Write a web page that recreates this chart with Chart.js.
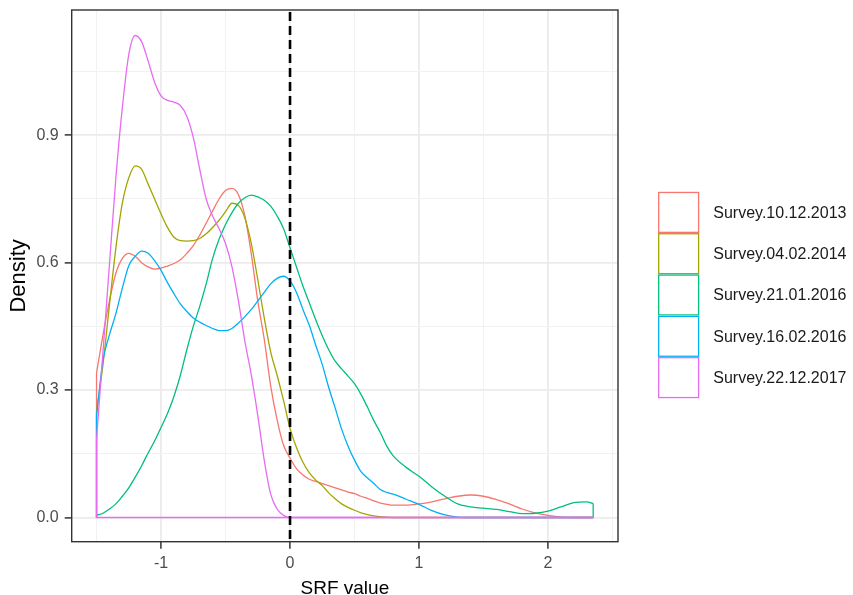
<!DOCTYPE html>
<html lang="en">
<head>
  <meta charset="UTF-8">
  <title>SRF value density</title>
  <script src="https://cdn.jsdelivr.net/npm/chart.js"></script>
  <style>
    html, body { margin: 0; padding: 0; background: #fff; }
    #wrap { width: 853px; height: 595px; position: relative; }
  </style>
</head>
<body>
  <div id="wrap">
    <canvas id="densityChart"></canvas>
  </div>

  <script>
    const srf = [
      -1.5, -1.45, -1.4, -1.35, -1.3, -1.25, -1.2, -1.15, -1.1, -1.05,
      -1.0, -0.95, -0.9, -0.85, -0.8, -0.75, -0.7, -0.65, -0.6, -0.55,
      -0.5, -0.45, -0.4, -0.35, -0.3, -0.25, -0.2, -0.15, -0.1, -0.05,
      0, 0.05, 0.1, 0.15, 0.2, 0.25, 0.3, 0.35, 0.4, 0.45,
      0.5, 0.55, 0.6, 0.65, 0.7, 0.75, 0.8,
      0.9, 1.0, 1.1, 1.2, 1.3, 1.4, 1.5, 1.6, 1.7, 1.8, 1.9, 2.0, 2.1, 2.2, 2.3, 2.35
    ];

    const surveyNames = [
      'Survey.10.12.2013',
      'Survey.04.02.2014',
      'Survey.21.01.2016',
      'Survey.16.02.2016',
      'Survey.22.12.2017'
    ];

    const survey2013 = [
      0.34, 0.43, 0.51, 0.575, 0.61, 0.622, 0.615, 0.60, 0.59, 0.585,
      0.587, 0.592, 0.598, 0.607, 0.622, 0.64, 0.665, 0.693, 0.722, 0.75,
      0.77, 0.775, 0.76, 0.71, 0.62, 0.51, 0.42, 0.31, 0.23, 0.17,
      0.14, 0.115, 0.1, 0.09, 0.085, 0.08, 0.075, 0.07, 0.065, 0.06,
      0.056, 0.05, 0.045, 0.039, 0.034, 0.031, 0.029,
      0.029, 0.032, 0.037, 0.044, 0.05, 0.053, 0.05, 0.042, 0.032, 0.02, 0.011, 0.005, 0.001, 0, 0, 0
    ];

    const survey2014 = [
      0.25, 0.36, 0.5, 0.635, 0.74, 0.80, 0.828, 0.82, 0.785, 0.75,
      0.715, 0.683, 0.66, 0.652, 0.651, 0.652, 0.657, 0.668, 0.683, 0.70,
      0.72, 0.74, 0.735, 0.705, 0.645, 0.56, 0.47, 0.39, 0.335, 0.275,
      0.21, 0.165, 0.13, 0.105, 0.088, 0.075, 0.058, 0.044, 0.032, 0.024,
      0.017, 0.011, 0.007, 0.004, 0.002, 0.001, 0,
      0, 0, 0, 0, 0, 0, 0, 0, 0, 0, 0, 0, 0, 0, 0, 0
    ];

    const survey2016a = [
      0.005, 0.01, 0.02, 0.032, 0.05, 0.07, 0.095, 0.122, 0.152, 0.18,
      0.212, 0.245, 0.285, 0.335, 0.395, 0.45, 0.497, 0.55, 0.61, 0.655,
      0.69, 0.718, 0.74, 0.753, 0.759, 0.755, 0.747, 0.733, 0.71, 0.68,
      0.635, 0.59, 0.545, 0.505, 0.465, 0.428, 0.395, 0.368, 0.35, 0.333,
      0.315, 0.29, 0.26, 0.228, 0.2, 0.168, 0.145,
      0.118, 0.097, 0.072, 0.05, 0.032, 0.025, 0.022, 0.019, 0.014, 0.009, 0.01, 0.015, 0.025, 0.035, 0.037, 0.033
    ];

    const survey2016b = [
      0.24, 0.37, 0.43, 0.48, 0.54, 0.593, 0.615, 0.627, 0.622, 0.605,
      0.582, 0.553, 0.527, 0.503, 0.485, 0.47, 0.46, 0.452, 0.445, 0.44,
      0.44, 0.445, 0.458, 0.473, 0.49, 0.51, 0.53, 0.55, 0.563, 0.568,
      0.557, 0.53, 0.49, 0.452, 0.405, 0.36, 0.306, 0.258, 0.208, 0.168,
      0.135, 0.108, 0.093, 0.08, 0.066, 0.059, 0.055,
      0.043, 0.031, 0.016, 0.006, 0.001, 0, 0, 0, 0, 0, 0, 0, 0, 0, 0, 0
    ];

    const survey2017 = [
      0.185, 0.39, 0.595, 0.8, 0.965, 1.09, 1.135, 1.12, 1.075, 1.025,
      0.993, 0.982, 0.978, 0.97, 0.945, 0.895, 0.82, 0.75, 0.71, 0.68,
      0.645, 0.59, 0.51, 0.415, 0.335, 0.24, 0.135, 0.055, 0.02, 0.005,
      0, 0, 0, 0, 0, 0, 0, 0, 0, 0,
      0, 0, 0, 0, 0, 0, 0,
      0, 0, 0, 0, 0, 0, 0, 0, 0, 0, 0, 0, 0, 0, 0, 0
    ];

    const surveyColors = ['#F8766D', '#A3A500', '#00BF7D', '#00B0F6', '#E76BF3'];

    // axis setup
    const xTicks = [-1.5, -1, -0.5, 0, 0.5, 1, 1.5, 2, 2.5];
    const yTicks = [0, 0.15, 0.3, 0.45, 0.6, 0.75, 0.9, 1.05];
    const xMin = -1.6925, xMax = 2.5425;
    const yMin = -0.057, yMax = 1.195;
    const refLineX = 0;

    const isMajorX = v => Number.isInteger(v);
    const isMajorY = v => Math.abs(Math.round(v / 0.3) * 0.3 - v) < 1e-6;

    const allSeries = [survey2013, survey2014, survey2016a, survey2016b, survey2017];
    const last = srf.length - 1;

    // each density is drawn like ggplot's outline polygon:
    // the smooth curve, plus the straight edges down to zero.
    // The shared zero base is only visible for the top (last) group,
    // so only that one draws it; the others just get their end edges.
    const datasets = [];
    allSeries.forEach((vals, i) => {
      const topGroup = i === allSeries.length - 1;
      datasets.push({
        label: surveyNames[i],
        data: srf.map((x, k) => ({ x: x, y: vals[k] })),
        borderColor: surveyColors[i],
        borderWidth: 1.3,
        pointRadius: 0,
        fill: false,
        cubicInterpolationMode: 'monotone',
        order: 2 * (allSeries.length - i)
      });
      datasets.push({
        label: surveyNames[i] + ' base',
        isBase: true,
        data: [
          { x: srf[0], y: vals[0] },
          { x: srf[0], y: 0 },
          { x: (srf[0] + srf[last]) / 2, y: topGroup ? 0 : null },
          { x: srf[last], y: 0 },
          { x: srf[last], y: vals[last] }
        ],
        spanGaps: false,
        borderColor: surveyColors[i],
        borderWidth: 1.3,
        pointRadius: 0,
        fill: false,
        tension: 0,
        order: 2 * (allSeries.length - i) - 1
      });
    });

    // dashed line at 0 and the panel border on top of the curves
    const panelPlugin = {
      id: 'panelExtras',
      afterDatasetsDraw(chart) {
        const { ctx, chartArea, scales } = chart;
        const x0 = scales.x.getPixelForValue(refLineX);
        ctx.save();
        ctx.strokeStyle = '#000';
        ctx.lineWidth = 2.6;
        ctx.setLineDash([9, 5]);
        ctx.beginPath();
        ctx.moveTo(x0, chartArea.top + 2);
        ctx.lineTo(x0, chartArea.bottom);
        ctx.stroke();
        ctx.setLineDash([]);
        ctx.strokeStyle = '#333';
        ctx.lineWidth = 1.4;
        ctx.strokeRect(chartArea.left, chartArea.top,
          chartArea.right - chartArea.left, chartArea.bottom - chartArea.top);
        ctx.restore();
      }
    };

    // ggplot style legend: outlined squares stacked with no gap
    const legendPlugin = {
      id: 'boxLegend',
      afterDraw(chart) {
        const { ctx, chartArea } = chart;
        const size = 41.3;
        const left = chartArea.right + 40;
        const items = chart.data.datasets.filter(ds => !ds.isBase);
        const top = (chart.height - items.length * size) / 2 - 2.5;
        ctx.save();
        ctx.font = '16px "Liberation Sans", Arial, sans-serif';
        ctx.textBaseline = 'middle';
        ctx.textAlign = 'left';
        items.forEach((ds, i) => {
          const y = top + i * size;
          ctx.fillStyle = '#fff';
          ctx.fillRect(left, y, size, size);
          ctx.strokeStyle = ds.borderColor;
          ctx.lineWidth = 1.3;
          ctx.strokeRect(left + 0.7, y + 0.7, size - 1.4, size - 1.4);
          ctx.fillStyle = '#1a1a1a';
          ctx.fillText(ds.label, left + size + 14, y + size / 2 + 1);
        });
        ctx.restore();
      }
    };

    Chart.defaults.font.family = '"Liberation Sans", Arial, sans-serif';

    new Chart(document.getElementById('densityChart'), {
      type: 'line',
      data: { datasets: datasets },
      options: {
        responsive: true,
        maintainAspectRatio: false,
        animation: false,
        events: [],
        layout: { padding: { left: 0, top: 10, right: 235, bottom: 0 } },
        plugins: {
          legend: { display: false },
          tooltip: { enabled: false }
        },
        scales: {
          x: {
            type: 'linear',
            min: xMin,
            max: xMax,
            afterBuildTicks: s => { s.ticks = xTicks.map(v => ({ value: v })); },
            afterFit: s => { s.height = 53.3; s.paddingLeft = 0; s.paddingRight = 0; },
            border: { display: false },
            grid: {
              color: c => (c.tick && isMajorX(c.tick.value)) ? '#ebebeb' : '#f2f2f2',
              lineWidth: c => (c.tick && isMajorX(c.tick.value)) ? 1.8 : 1,
              tickColor: c => (c.tick && isMajorX(c.tick.value)) ? '#333' : 'rgba(0,0,0,0)',
              tickWidth: 1.5,
              tickLength: 7
            },
            ticks: {
              autoSkip: false,
              maxRotation: 0,
              padding: 5,
              color: '#4d4d4d',
              font: { size: 16 },
              callback: v => isMajorX(v) ? String(v) : ''
            },
            title: {
              display: true,
              text: 'SRF value',
              color: '#000',
              font: { size: 19, lineHeight: 0.63 },
              padding: { top: 0, bottom: 0 }
            }
          },
          y: {
            type: 'linear',
            min: yMin,
            max: yMax,
            afterBuildTicks: s => { s.ticks = yTicks.map(v => ({ value: v })); },
            afterFit: s => { s.width = 71.7; s.paddingTop = 0; s.paddingBottom = 0; },
            border: { display: false },
            grid: {
              color: c => (c.tick && isMajorY(c.tick.value)) ? '#ebebeb' : '#f2f2f2',
              lineWidth: c => (c.tick && isMajorY(c.tick.value)) ? 1.8 : 1,
              tickColor: c => (c.tick && isMajorY(c.tick.value)) ? '#333' : 'rgba(0,0,0,0)',
              tickWidth: 1.5,
              tickLength: 7
            },
            ticks: {
              autoSkip: false,
              padding: 6,
              color: '#4d4d4d',
              font: { size: 16 },
              callback: v => isMajorY(v) ? v.toFixed(1) : ''
            },
            title: {
              display: true,
              text: 'Density',
              color: '#000',
              font: { size: 22, lineHeight: 1 },
              padding: { top: 8, bottom: 0 }
            }
          }
        }
      },
      plugins: [panelPlugin, legendPlugin]
    });
  </script>
</body>
</html>
